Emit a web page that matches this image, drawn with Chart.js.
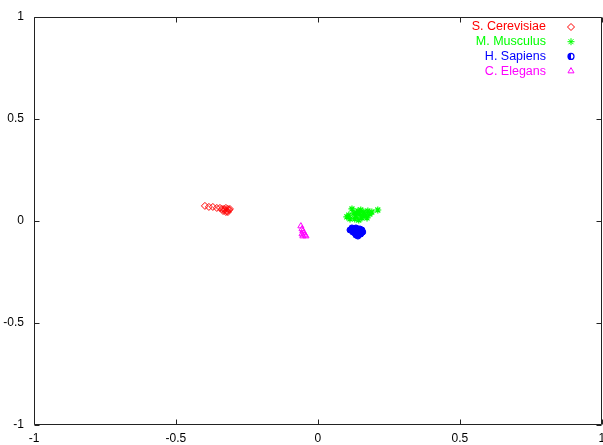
<!DOCTYPE html>
<html><head><meta charset="utf-8">
<script src="https://cdn.jsdelivr.net/npm/chart.js@4/dist/chart.umd.min.js"></script>
<style>html,body{margin:0;padding:0;background:#fff;overflow:hidden;}#wrap{width:607px;height:445px;position:relative;}</style>
</head><body><div id="wrap"><canvas id="c"></canvas></div>
<script>
// ---- data ----
const seriesNames = ['S. Cerevisiae', 'M. Musculus', 'H. Sapiens', 'C. Elegans'];
const cerevisiaeX = [-0.398, -0.384, -0.370, -0.356, -0.345, -0.338, -0.331, -0.327, -0.324, -0.320, -0.317, -0.313, -0.324, -0.334, -0.317, -0.310];
const cerevisiaeY = [0.074, 0.069, 0.069, 0.064, 0.064, 0.059, 0.059, 0.054, 0.064, 0.049, 0.059, 0.054, 0.044, 0.049, 0.044, 0.059];
const musculusX = [0.102, 0.109, 0.120, 0.127, 0.134, 0.141, 0.148, 0.155, 0.162, 0.169, 0.176, 0.183, 0.190, 0.130, 0.144, 0.158, 0.173, 0.211, 0.113, 0.137, 0.151];
const musculusY = [0.020, 0.029, 0.059, 0.039, 0.025, 0.049, 0.034, 0.015, 0.044, 0.029, 0.049, 0.034, 0.044, 0.010, 0.005, 0.025, 0.015, 0.054, 0.010, 0.039, 0.054];
const sapiensX = [0.113, 0.120, 0.127, 0.134, 0.141, 0.148, 0.155, 0.123, 0.130, 0.137, 0.144, 0.151, 0.158, 0.134, 0.141, 0.148];
const sapiensY = [-0.044, -0.034, -0.039, -0.034, -0.039, -0.039, -0.044, -0.054, -0.059, -0.054, -0.059, -0.064, -0.054, -0.069, -0.074, -0.064];
const elegansX = [-0.060, -0.056, -0.053, -0.049, -0.046, -0.056, -0.042, -0.053];
const elegansY = [-0.025, -0.039, -0.049, -0.059, -0.069, -0.064, -0.074, -0.074];
const tickValues = [-1, -0.5, 0, 0.5, 1];
const tickLabels = ['-1', '-0.5', '0', '0.5', '1'];

function pts(xs, ys) { return xs.map((x, i) => ({ x: x, y: ys[i] })); }

const FONT = '"Liberation Sans", Arial, Helvetica, sans-serif';

const framePlugin = {
  id: 'frame',
  afterDatasetsDraw(chart) {
    const ctx = chart.ctx, a = chart.chartArea;
    const xs = chart.scales.x, ys = chart.scales.y;
    ctx.save();
    ctx.strokeStyle = '#222';
    ctx.lineWidth = 1;
    ctx.beginPath();
    const L = Math.round(a.left) + 0.5, R = Math.round(a.right) - 0.5;
    const T = Math.round(a.top) + 0.5, B = Math.round(a.bottom) - 0.5;
    ctx.moveTo(L, T); ctx.lineTo(R, T); ctx.lineTo(R, B); ctx.lineTo(L, B); ctx.closePath();
    tickValues.forEach(v => {
      const px = Math.round(xs.getPixelForValue(v)) + 0.5;
      ctx.moveTo(px, B); ctx.lineTo(px, B - 5);
      ctx.moveTo(px, T); ctx.lineTo(px, T + 5);
      const py = Math.round(ys.getPixelForValue(v)) + 0.5;
      ctx.moveTo(L, py); ctx.lineTo(L + 5, py);
      ctx.moveTo(R, py); ctx.lineTo(R - 5, py);
    });
    ctx.stroke();
    ctx.restore();
  }
};

function halfCircle(ctx, x, y, r, color) {
  ctx.beginPath();
  ctx.arc(x, y, r, 0, Math.PI * 2);
  ctx.fillStyle = '#fff';
  ctx.fill();
  ctx.beginPath();
  ctx.arc(x, y, r, Math.PI / 2, Math.PI * 1.5, false);
  ctx.closePath();
  ctx.fillStyle = color;
  ctx.fill();
  ctx.beginPath();
  ctx.arc(x, y, r, 0, Math.PI * 2);
  ctx.strokeStyle = color;
  ctx.lineWidth = 1.2;
  ctx.stroke();
}

const legendPlugin = {
  id: 'gpLegend',
  afterDraw(chart) {
    const ctx = chart.ctx;
    ctx.save();
    ctx.font = '12.5px ' + FONT;
    ctx.textAlign = 'right';
    ctx.textBaseline = 'middle';
    chart.data.datasets.forEach((ds, i) => {
      const y = 27 + i * 14.7;
      ctx.fillStyle = ds.borderColor;
      ctx.fillText(ds.label, 546, y);
      if (ds.pointStyle === 'circle') {
        halfCircle(ctx, 571, y, 3, ds.borderColor);
      } else {
        ctx.strokeStyle = ds.borderColor;
        ctx.fillStyle = ds.legendFill;
        ctx.lineWidth = 1;
        Chart.helpers.drawPoint(ctx, { pointStyle: ds.pointStyle, radius: ds.pointRadius, borderWidth: 1, rotation: 0 }, 571, y);
      }
    });
    ctx.restore();
  }
};

new Chart(document.getElementById('c'), {
  type: 'scatter',
  data: {
    datasets: [
      { label: seriesNames[0], data: pts(cerevisiaeX, cerevisiaeY), borderColor: '#ff0000', backgroundColor: 'rgba(0,0,0,0)', legendFill: '#ffffff', pointStyle: 'rectRot', pointRadius: 3.5, borderWidth: 1 },
      { label: seriesNames[1], data: pts(musculusX, musculusY), borderColor: '#00ff00', backgroundColor: '#00ff00', legendFill: '#00ff00', pointStyle: 'star', pointRadius: 3.5, borderWidth: 1.2 },
      { label: seriesNames[2], data: pts(sapiensX, sapiensY), borderColor: '#0000ff', backgroundColor: '#0000ff', legendFill: '#0000ff', pointStyle: 'circle', pointRadius: 3, borderWidth: 1 },
      { label: seriesNames[3], data: pts(elegansX, elegansY), borderColor: '#ff00ff', backgroundColor: 'rgba(0,0,0,0)', legendFill: '#ffffff', pointStyle: 'triangle', pointRadius: 3.5, borderWidth: 1 }
    ]
  },
  options: {
    responsive: true,
    maintainAspectRatio: false,
    animation: false,
    layout: { padding: { top: 17, right: 1, left: 0, bottom: 0 } },
    plugins: { legend: { display: false }, tooltip: { enabled: false } },
    scales: {
      x: {
        type: 'linear', min: -1, max: 1,
        grid: { display: false, drawTicks: false },
        border: { display: false },
        afterBuildTicks(s) { s.ticks = tickValues.map(v => ({ value: v })); },
        ticks: { padding: 6, color: '#000', font: { family: FONT, size: 12 }, maxRotation: 0, autoSkip: false,
          callback: (v) => tickLabels[tickValues.indexOf(v)] },
        afterFit(s) { s.height = 20; s.paddingLeft = 0; s.paddingRight = 0; }
      },
      y: {
        type: 'linear', min: -1, max: 1,
        grid: { display: false, drawTicks: false },
        border: { display: false },
        afterBuildTicks(s) { s.ticks = tickValues.map(v => ({ value: v })); },
        ticks: { padding: 10, color: '#000', font: { family: FONT, size: 12 }, autoSkip: false,
          callback: (v) => tickLabels[tickValues.indexOf(v)] },
        afterFit(s) { s.width = 34; s.paddingTop = 0; s.paddingBottom = 0; }
      }
    }
  },
  plugins: [framePlugin, legendPlugin]
});
</script>
</body></html>
